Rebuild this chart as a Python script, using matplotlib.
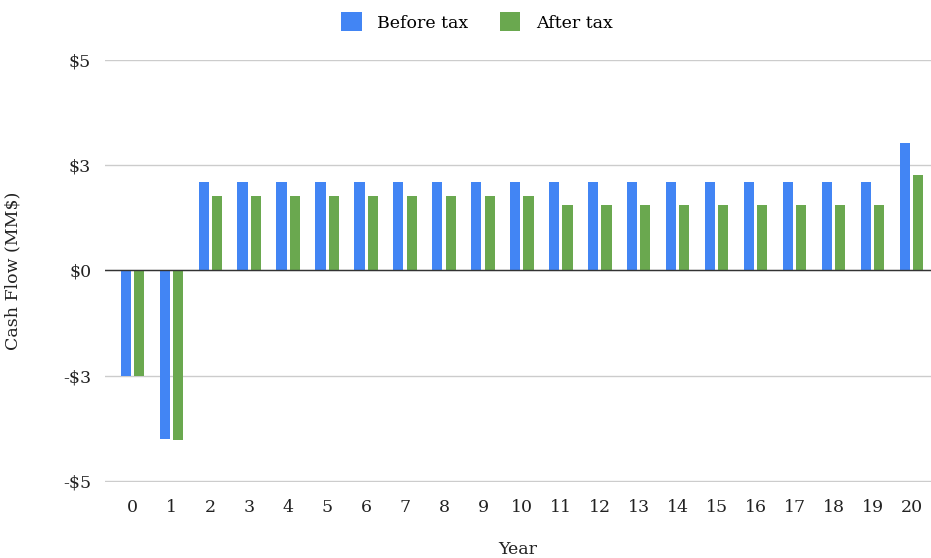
import matplotlib.pyplot as plt
import numpy as np

years = list(range(0, 21))
before_tax = [-2.5, -4.0] + [2.1] * 18 + [3.03]
after_tax = [-2.5, -4.04] + [1.76] * 9 + [1.56] * 9 + [2.27]
ytick_vals = [-5, -2.5, 0, 2.5, 5]
ytick_labels = ['-$5', '-$3', '$0', '$3', '$5']

plt.rcParams['font.family'] = ['DejaVu Serif']

fig = plt.figure(figsize=(9.31, 5.58), dpi=100)
ax = fig.add_axes([0.1128, 0.136, 0.8872, 0.7565])

x = np.arange(len(years))
w = 0.26
off = 0.17
ax.bar(x - off, before_tax, w, color='#4285F4', label='Before tax', zorder=3)
ax.bar(x + off, after_tax, w, color='#6AA84F', label='After tax', zorder=3)

ax.set_xlim(-0.7, 20.5)
ax.set_ylim(-5.03, 5)
ax.set_yticks(ytick_vals)
ax.set_yticklabels(ytick_labels)
ax.set_xticks(x)
ax.set_xticklabels([str(y) for y in years])
ax.grid(axis='y', color='#cccccc', linewidth=1, zorder=0)
ax.axhline(0, color='#333333', linewidth=1, zorder=4)
for s in ax.spines.values():
    s.set_visible(False)
ax.tick_params(axis='both', length=0, labelsize=12.5, colors='#222222', pad=10)
ax.tick_params(axis='x', pad=12)

ax.set_ylabel('Cash Flow (MM$)', fontsize=12.5, color='#222222', labelpad=30)
ax.set_xlabel('Year', fontsize=12.5, color='#222222', labelpad=18)

ax.legend(loc='lower center', bbox_to_anchor=(0.45, 1.03), ncol=2, frameon=False,
          fontsize=12.5, handlelength=1.2, handleheight=1.3, columnspacing=1.8,
          handletextpad=0.9)

fig.savefig('out.png', dpi=100)
